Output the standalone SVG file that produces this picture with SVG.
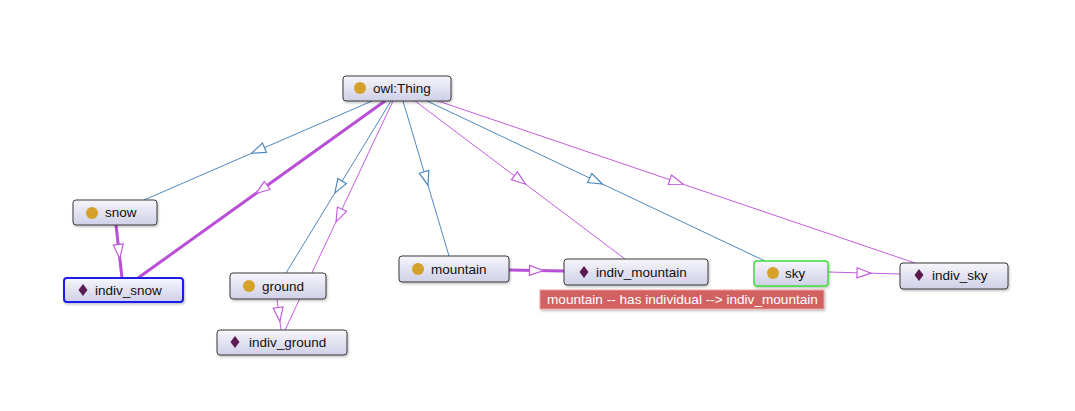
<svg xmlns="http://www.w3.org/2000/svg" width="1075" height="411" viewBox="0 0 1075 411">
<style>
.node rect.box{fill:url(#ng);stroke:#3a3a3a;stroke-width:1;filter:url(#sh)}
.node text{font-family:"Liberation Sans",Arial,sans-serif;font-size:13.5px;fill:#111}
.cls{fill:#d4a12a}
.ind{fill:#5b1c54}
.blue{fill:none;stroke:#4f88bf;stroke-width:1;marker-mid:url(#ab)}
.purple{fill:none;stroke:#c35ee0;stroke-width:1;marker-mid:url(#ap)}
.thick{fill:none;stroke:#b84fd6;stroke-width:3;marker-mid:url(#ap)}
.lbl text{font-family:"Liberation Sans",Arial,sans-serif;font-size:13.6px;fill:#ffffff}
</style>
<defs>
<linearGradient id="ng" x1="0" y1="0" x2="0" y2="1">
<stop offset="0" stop-color="#f6f6fb"/>
<stop offset="1" stop-color="#cfcfe8"/>
</linearGradient>
<filter id="sh" x="-10%" y="-20%" width="120%" height="150%">
<feDropShadow dx="1" dy="1.5" stdDeviation="1" flood-color="#000" flood-opacity="0.25"/>
</filter>
<marker id="ab" viewBox="0 0 16 12" refX="8" refY="6" markerWidth="16" markerHeight="12" markerUnits="userSpaceOnUse" orient="auto">
<path d="M1,1 L15,6 L1,11 Z" fill="#ffffff" stroke="#4f88bf" stroke-width="1.2"/>
</marker>
<marker id="ap" viewBox="0 0 16 12" refX="8" refY="6" markerWidth="16" markerHeight="12" markerUnits="userSpaceOnUse" orient="auto">
<path d="M1,1 L15,6 L1,11 Z" fill="#ffffff" stroke="#c35ee0" stroke-width="1.2"/>
</marker>
</defs>
<rect width="1075" height="411" fill="#ffffff"/>
<g id="connectors">
<polyline class="blue" points="372,101 258,150.5 144,200"/>
<polyline class="thick" points="385,101 261.5,189.5 138,278"/>
<polyline class="blue" points="391,101 338.5,187 286,273"/>
<polyline class="purple" points="393,101 339,215.5 285,330"/>
<polyline class="blue" points="403,101 426,178.5 449,256"/>
<polyline class="purple" points="415,101 520,180 625,259"/>
<polyline class="blue" points="427,101 596,181 765,261"/>
<polyline class="purple" points="438,101 676.5,182 915,263"/>
<polyline class="thick" points="116,225 119,251.5 122,278"/>
<polyline class="purple" points="277,299 279,314.5 281,330"/>
<polyline class="thick" points="509,270 536.5,270.5 564,271"/>
<polyline class="purple" points="828,272 864,273 900,274"/>
</g>
<g id="owl_Thing" class="node">
<rect class="box" x="343" y="76" width="108" height="25" rx="3"/>
<circle class="cls" cx="360" cy="88" r="6"/>
<text x="373" y="93">owl:Thing</text>
</g>
<g id="snow" class="node">
<rect class="box" x="73" y="200" width="84" height="25" rx="3"/>
<circle class="cls" cx="92" cy="213" r="6"/>
<text x="105" y="217">snow</text>
</g>
<g id="indiv_snow" class="node">
<rect class="box" x="64" y="278" width="119" height="24" rx="3" style="stroke:#1b1bf0;stroke-width:2"/>
<path class="ind" d="M83,284 L87.5,290 L83,296 L78.5,290 Z"/>
<text x="95" y="295">indiv_snow</text>
</g>
<g id="ground" class="node">
<rect class="box" x="230" y="273" width="96" height="26" rx="3"/>
<circle class="cls" cx="249" cy="286" r="6"/>
<text x="262" y="291">ground</text>
</g>
<g id="indiv_ground" class="node">
<rect class="box" x="217" y="330" width="130" height="25" rx="3"/>
<path class="ind" d="M235,336 L239.5,342 L235,348 L230.5,342 Z"/>
<text x="249" y="347">indiv_ground</text>
</g>
<g id="mountain" class="node">
<rect class="box" x="399" y="256" width="110" height="26" rx="3"/>
<circle class="cls" cx="418" cy="269" r="6"/>
<text x="431" y="274">mountain</text>
</g>
<g id="indiv_mountain" class="node">
<rect class="box" x="564" y="259" width="144" height="26" rx="3"/>
<path class="ind" d="M584,266 L588.5,272 L584,278 L579.5,272 Z"/>
<text x="596" y="277">indiv_mountain</text>
</g>
<g id="sky" class="node">
<rect class="box" x="754" y="261" width="74" height="25" rx="3" style="stroke:#3fdc3f;stroke-width:1.5"/>
<circle class="cls" cx="773" cy="273" r="6"/>
<text x="785" y="278">sky</text>
</g>
<g id="indiv_sky" class="node">
<rect class="box" x="900" y="263" width="108" height="26" rx="3"/>
<path class="ind" d="M919,269 L923.5,275 L919,281 L914.5,275 Z"/>
<text x="932" y="280">indiv_sky</text>
</g>
<g id="tooltip" class="lbl">
<rect x="540" y="290" width="284" height="19" fill="#d26262" stroke="#f0a0a0" stroke-width="1" filter="url(#sh)"/>
<text x="547" y="304">mountain -- has individual --&gt; indiv_mountain</text>
</g>
</svg>
